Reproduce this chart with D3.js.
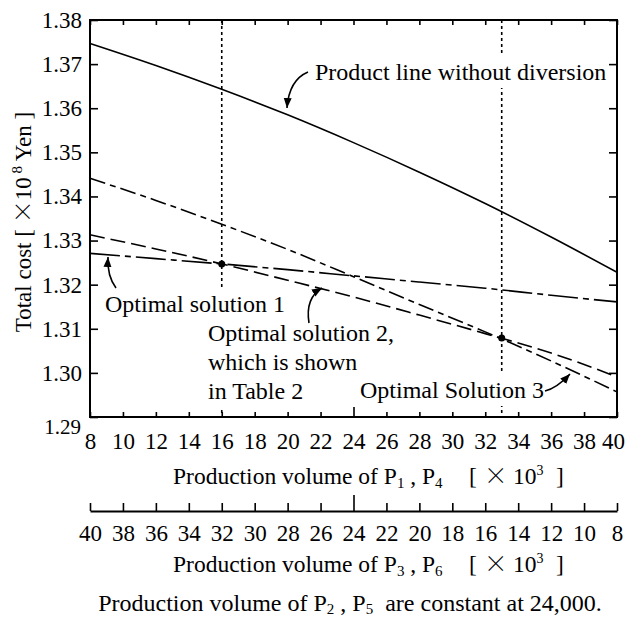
<!DOCTYPE html>
<html>
<head>
<meta charset="utf-8">
<script src="https://cdn.jsdelivr.net/npm/d3@7"></script>
<style>
  body { margin: 0; background: #fff; }
  svg { display: block; }
  text { font-family: "Liberation Serif", "Times New Roman", serif; fill: #000; white-space: pre; }
</style>
</head>
<body>
<svg id="chart" width="627" height="619"></svg>
<script>
// ---- data ----
const xValues = [8, 12, 16, 20, 24, 28, 32, 36, 40];
const productLine = [1.3747, 1.3697, 1.3643, 1.3585, 1.3522, 1.3455, 1.3384, 1.3308, 1.3228];
const optimal1 = [1.3271, 1.3259, 1.3247, 1.3234, 1.3220, 1.3206, 1.3192, 1.3176, 1.3161];
const optimal2 = [1.3313, 1.3281, 1.3247, 1.3210, 1.3172, 1.3131, 1.3089, 1.3045, 1.2991];
const optimal3 = [1.3441, 1.3391, 1.3337, 1.3280, 1.3218, 1.3155, 1.3093, 1.3027, 1.2957];
const markerX = [16, 33];
const markerY = [1.3247, 1.3079];
const xTicks = [8, 10, 12, 14, 16, 18, 20, 22, 24, 26, 28, 30, 32, 34, 36, 38, 40];
const xTicks2 = [40, 38, 36, 34, 32, 30, 28, 26, 24, 22, 20, 18, 16, 14, 12, 10, 8];
const yTicks = [1.29, 1.30, 1.31, 1.32, 1.33, 1.34, 1.35, 1.36, 1.37, 1.38];

const svg = d3.select("#chart");
const L = 90, R = 617, T = 20, B = 417;
const x = d3.scaleLinear().domain([8, 40]).range([L, R]);
const x2 = d3.scaleLinear().domain([40, 8]).range([L, R]);
const y = d3.scaleLinear().domain([1.29, 1.38]).range([B, T]);
const FS = 23;

// vertical dotted lines
markerX.forEach(v => {
  svg.append("line").attr("x1", x(v)).attr("x2", x(v)).attr("y1", T).attr("y2", B)
    .attr("stroke", "#000").attr("stroke-width", 1.6).attr("stroke-dasharray", "3,3");
});

// curves
const line = d3.line().x((d, i) => x(xValues[i])).y(d => y(d)).curve(d3.curveMonotoneX);
const series = [
  { v: productLine, dash: null },
  { v: optimal1, dash: "30,5,6,5" },
  { v: optimal2, dash: "15,6" },
  { v: optimal3, dash: "16,5,6,5" }
];
series.forEach(s => {
  svg.append("path").attr("d", line(s.v)).attr("fill", "none").attr("stroke", "#000")
    .attr("stroke-width", 1.6).attr("stroke-dasharray", s.dash);
});

// markers
markerX.forEach((v, i) => {
  svg.append("circle").attr("cx", x(v)).attr("cy", y(markerY[i])).attr("r", 3.5).attr("fill", "#000");
});

// axes
const gL = svg.append("g").attr("transform", `translate(${L},0)`)
  .call(d3.axisLeft(y).tickValues(yTicks).tickSizeInner(-8).tickSizeOuter(0).tickPadding(8).tickFormat(d3.format(".2f")));
const gR = svg.append("g").attr("transform", `translate(${R},0)`)
  .call(d3.axisRight(y).tickValues(yTicks).tickSizeInner(-8).tickSizeOuter(0).tickFormat(""));
const gT = svg.append("g").attr("transform", `translate(0,${T})`)
  .call(d3.axisTop(x).tickValues(xTicks).tickSizeInner(-5).tickSizeOuter(0).tickFormat(""));
const gB = svg.append("g").attr("transform", `translate(0,${B})`)
  .call(d3.axisBottom(x).tickValues(xTicks).tickSizeInner(-5).tickSizeOuter(0).tickPadding(16));
gB.selectAll(".tick").filter(d => d === 24).select("line").attr("y2", -10);
const g2 = svg.append("g").attr("transform", `translate(0,511)`)
  .call(d3.axisBottom(x2).tickValues(xTicks2).tickSizeInner(-8).tickSizeOuter(0).tickPadding(14));
g2.selectAll(".tick").filter(d => d === 24).select("line").attr("y2", -16);

[gL, gR, gT, gB, g2].forEach(g => {
  g.attr("font-family", null).attr("font-size", null);
  g.selectAll(".tick line").attr("stroke-width", 1.6);
  g.selectAll("text").style("font-family", "'Liberation Serif', serif").style("font-size", FS + "px");
});
[gL, gR, gT, gB].forEach(g => g.select(".domain").remove());
g2.select(".domain").attr("stroke-width", 2);
gB.selectAll(".tick").filter(d => d === 40).select("text").attr("dx", -4);
gL.selectAll(".tick").filter(d => Math.abs(d - 1.29) < 1e-9).select("text")
  .style("font-size", "21px").attr("dy", "0.8em").attr("x", -9);

// frame
svg.append("rect").attr("x", L).attr("y", T).attr("width", R - L).attr("height", B - T)
  .attr("fill", "none").attr("stroke", "#000").attr("stroke-width", 2);

// annotation helper: text with white background
function label(lines, x0, y0, lh) {
  const g = svg.append("g");
  const t = g.append("text").attr("font-size", FS + 1);
  lines.forEach((s, i) => t.append("tspan").attr("x", x0).attr("y", y0 + i * lh).text(s));
  const bb = t.node().getBBox();
  g.insert("rect", "text").attr("x", bb.x - 2).attr("y", bb.y - 3).attr("width", bb.width + 4)
    .attr("height", bb.height + 6).attr("fill", "#fff");
}
label(["Product line without diversion"], 315, 80, 0);
label(["Optimal solution 1"], 105, 312, 0);
label(["Optimal solution 2,", "which is shown", "in Table 2"], 208, 341, 29);
label(["Optimal Solution 3"], 360, 398, 0);

// arrows
svg.append("defs").append("marker").attr("id", "ah").attr("viewBox", "0 0 10 10")
  .attr("refX", 10).attr("refY", 5).attr("markerWidth", 10).attr("markerHeight", 10)
  .attr("markerUnits", "userSpaceOnUse").attr("orient", "auto")
  .append("path").attr("d", "M0,1 L10,5 L0,9 Z").attr("fill", "#000");
const arrows = [
  "M308,72 Q289,80 287,108",
  "M116,288 Q107,276 108,257",
  "M309,323 Q305,298 322,288",
  "M545,391 Q557,388 570,374"
];
arrows.forEach(d => svg.append("path").attr("d", d).attr("fill", "none").attr("stroke", "#000")
  .attr("stroke-width", 1.6).attr("marker-end", "url(#ah)"));

// axis titles
function title(yp, sub1, sub2) {
  const t = svg.append("text").attr("x", 173).attr("y", yp).attr("font-size", 23.5);
  t.append("tspan").text("Production volume of P");
  t.append("tspan").attr("font-size", 15).attr("dy", 4).text(sub1);
  t.append("tspan").attr("dy", -4).text(" , P");
  t.append("tspan").attr("font-size", 15).attr("dy", 4).text(sub2);
  t.append("tspan").attr("dy", -4).attr("x", 469).text("[");
  t.append("tspan").attr("x", 484).attr("font-family", "Noto Sans CJK JP").attr("font-weight", 300).text("×");
  t.append("tspan").attr("x", 513).text("10");
  t.append("tspan").attr("font-size", 14).attr("dy", -9).text("3");
  t.append("tspan").attr("dy", 9).attr("x", 556).text("]");
  return t;
}
title(484, "1", "4");
title(572, "3", "6");

const cap = svg.append("text").attr("x", 350).attr("y", 611).attr("font-size", 24).attr("text-anchor", "middle");
cap.append("tspan").text("Production volume of P");
cap.append("tspan").attr("font-size", 15).attr("dy", 3).text("2");
cap.append("tspan").attr("dy", -3).text(" , P");
cap.append("tspan").attr("font-size", 15).attr("dy", 3).text("5");
cap.append("tspan").attr("dy", -3).text("  are constant at 24,000.");

// y title
const yt = svg.append("text").attr("transform", "translate(31,222) rotate(-90)")
  .attr("text-anchor", "middle").attr("font-size", FS);
yt.append("tspan").text("Total cost [ ");
yt.append("tspan").attr("font-family", "Noto Sans CJK JP").attr("font-weight", 300).text("×");
yt.append("tspan").text("10");
yt.append("tspan").attr("font-size", 15).attr("dy", -9).text(" 8");
yt.append("tspan").attr("dy", 9).text(" Yen ]");
</script>
</body>
</html>
